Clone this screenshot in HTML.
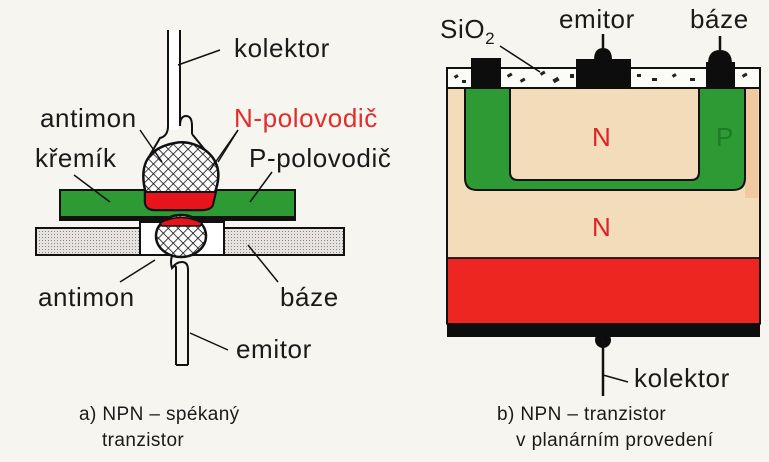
<!DOCTYPE html>
<html><head><meta charset="utf-8"><style>
html,body{margin:0;padding:0;background:#f7f5ef;}
svg{display:block;}
text{font-family:"Liberation Sans",sans-serif;fill:#1a1a1a;}
.l{font-size:26px;letter-spacing:0.6px;}
.c{font-size:19px;letter-spacing:0.4px;}
</style></head><body>
<svg width="769" height="462" viewBox="0 0 769 462" xmlns="http://www.w3.org/2000/svg">
<defs>
<pattern id="hatch" width="7" height="7" patternUnits="userSpaceOnUse" patternTransform="rotate(45)">
<rect width="7" height="7" fill="#fff"/>
<line x1="0" y1="0" x2="0" y2="7" stroke="#111" stroke-width="1.6"/>
<line x1="0" y1="0" x2="7" y2="0" stroke="#111" stroke-width="1.6"/>
</pattern>
<pattern id="dots" width="3" height="3" patternUnits="userSpaceOnUse">
<rect width="3" height="3" fill="#e6e2e0"/>
<rect width="1" height="1" fill="#888"/>
</pattern>
</defs>
<rect width="769" height="462" fill="#f7f5ef"/>

<!-- LEFT -->
<rect x="169" y="30" width="10" height="100" fill="#fff"/>
<path d="M168,30 L168,126 M180,30 L180,126 Q180,116 186,116 Q192,116 192,126 L192,134 M168,126 Q168,136 160,138 L150,155 M192,134 L205,150" fill="none" stroke="#111" stroke-width="2"/>
<rect x="60" y="190" width="235" height="30" fill="#2e9a34" stroke="#111" stroke-width="2"/>
<rect x="60" y="216" width="235" height="5" fill="#111"/>
<rect x="36" y="228" width="104" height="27" fill="url(#dots)" stroke="#111" stroke-width="2"/>
<rect x="224" y="228" width="120" height="27" fill="url(#dots)" stroke="#111" stroke-width="2"/>
<rect x="140" y="222" width="84" height="33" fill="#fff" stroke="#111" stroke-width="2"/>
<path d="M145,190 Q136,150 175,143 Q190,140 205,150 Q225,165 215,192 L212,205 Q210,210 200,210 L155,210 Q146,210 145,202 Z" fill="url(#hatch)" stroke="#111" stroke-width="2.5"/>
<path d="M145,192 L216,192 L213,205 Q211,210 202,210 L155,210 Q146,210 145,203 Z" fill="#e8141c" stroke="#111" stroke-width="2"/>
<ellipse cx="181" cy="236" rx="25" ry="21" fill="url(#hatch)" stroke="#111" stroke-width="2.5"/>
<path d="M160,223 Q181,212 202,223 L200,226 L162,226 Z" fill="#e8141c" stroke="#111" stroke-width="1.5"/>
<path d="M172,256 Q170,262 172,268 Q176,262 182,262 Q188,262 188,270 L188,365 M176,268 L176,365 M172,268 Q176,264 176,268" fill="none" stroke="#111" stroke-width="2"/>
<line x1="176" y1="365" x2="188" y2="365" stroke="#111" stroke-width="2"/>
<g stroke="#111" stroke-width="1.5" fill="none">
<line x1="178" y1="65" x2="220" y2="50"/>
<line x1="140" y1="130" x2="162" y2="162"/>
<line x1="238" y1="130" x2="210" y2="170"/>
<line x1="238" y1="130" x2="218" y2="162"/>
<line x1="74" y1="175" x2="110" y2="202"/>
<line x1="272" y1="172" x2="250" y2="202"/>
<line x1="155" y1="260" x2="120" y2="282"/>
<line x1="248" y1="245" x2="278" y2="282"/>
<line x1="190" y1="333" x2="228" y2="350"/>
</g>
<text x="234" y="57" class="l">kolektor</text>
<text x="40" y="127" class="l">antimon</text>
<text x="234" y="127" class="l" style="fill:#e32b2b">N-polovodič</text>
<text x="35" y="167" class="l">křemík</text>
<text x="249" y="167" class="l">P-polovodič</text>
<text x="38" y="306" class="l">antimon</text>
<text x="280" y="306" class="l">báze</text>
<text x="236" y="358" class="l">emitor</text>
<text x="79" y="420" class="c">a) NPN – spékaný</text>
<text x="102" y="446" class="c">tranzistor</text>

<!-- RIGHT -->
<rect x="447" y="88" width="313" height="170" fill="#f2dcba"/>
<rect x="745" y="88" width="13" height="110" fill="#f0c9a0"/>
<path d="M465,88 L465,178 Q465,190 477,190 L733,190 Q745,190 745,178 L745,88 Z" fill="#2e9a34" stroke="#111" stroke-width="2"/>
<path d="M510,88 L510,172 Q510,180 518,180 L691,180 Q699,180 699,172 L699,88 Z" fill="#f2dcba" stroke="#111" stroke-width="2"/>
<rect x="447" y="258" width="313" height="66" fill="#ee2622" stroke="#111" stroke-width="1.5"/>
<rect x="447" y="323" width="313" height="14" fill="#0d0d0d"/>
<line x1="447" y1="88" x2="447" y2="324" stroke="#111" stroke-width="2"/>
<line x1="760" y1="88" x2="760" y2="324" stroke="#111" stroke-width="2"/>
<line x1="447" y1="258" x2="760" y2="258" stroke="#111" stroke-width="1.5"/>
<rect x="447" y="68" width="313" height="20" fill="#fbfbf8" stroke="#111" stroke-width="2"/>
<g fill="#222">
<rect x="454" y="75" width="4" height="3" transform="rotate(-30 456 76)"/>
<rect x="462" y="80" width="4" height="3"/>
<rect x="507" y="74" width="5" height="3" transform="rotate(-30 509 75)"/>
<rect x="520" y="79" width="5" height="3" transform="rotate(-30 522 80)"/>
<rect x="540" y="72" width="5" height="3" transform="rotate(-30 542 73)"/>
<rect x="553" y="78" width="6" height="4" transform="rotate(-30 556 80)"/>
<rect x="570" y="74" width="4" height="4"/>
<rect x="637" y="74" width="4" height="3"/>
<rect x="652" y="78" width="5" height="3"/>
<rect x="672" y="74" width="4" height="3" transform="rotate(-30 674 75)"/>
<rect x="690" y="78" width="5" height="3"/>
<rect x="742" y="74" width="5" height="3" transform="rotate(-30 744 75)"/>
</g>
<rect x="471" y="58" width="30" height="31" fill="#0d0d0d"/>
<rect x="576" y="59" width="55" height="30" fill="#0d0d0d"/>
<path d="M594,60 Q594,48 603,48 Q612,48 612,60 Z" fill="#0d0d0d"/>
<line x1="603" y1="34" x2="603" y2="50" stroke="#111" stroke-width="2.5"/>
<rect x="706" y="62" width="29" height="27" fill="#0d0d0d"/>
<path d="M708,64 Q708,50 720,50 Q732,50 732,64 Z" fill="#0d0d0d"/>
<line x1="720" y1="36" x2="720" y2="52" stroke="#111" stroke-width="2.5"/>
<ellipse cx="603" cy="340" rx="8" ry="8" fill="#0d0d0d"/>
<line x1="603" y1="340" x2="603" y2="396" stroke="#111" stroke-width="2.5"/>
<line x1="603" y1="375" x2="628" y2="382" stroke="#111" stroke-width="1.5"/>
<line x1="500" y1="46" x2="540" y2="72" stroke="#111" stroke-width="1.5"/>
<text x="440" y="38" class="l">SiO<tspan font-size="17" dy="6">2</tspan></text>
<text x="559" y="28" class="l">emitor</text>
<text x="690" y="28" class="l">báze</text>
<text x="592" y="146" font-size="26" style="fill:#e0202a">N</text>
<text x="716" y="146" font-size="26" style="fill:#1f7a28">P</text>
<text x="592" y="236" font-size="26" style="fill:#e0202a">N</text>
<text x="634" y="387" class="l">kolektor</text>
<text x="497" y="420" class="c">b) NPN – tranzistor</text>
<text x="516" y="446" class="c">v planárním provedení</text>
</svg>
</body></html>
